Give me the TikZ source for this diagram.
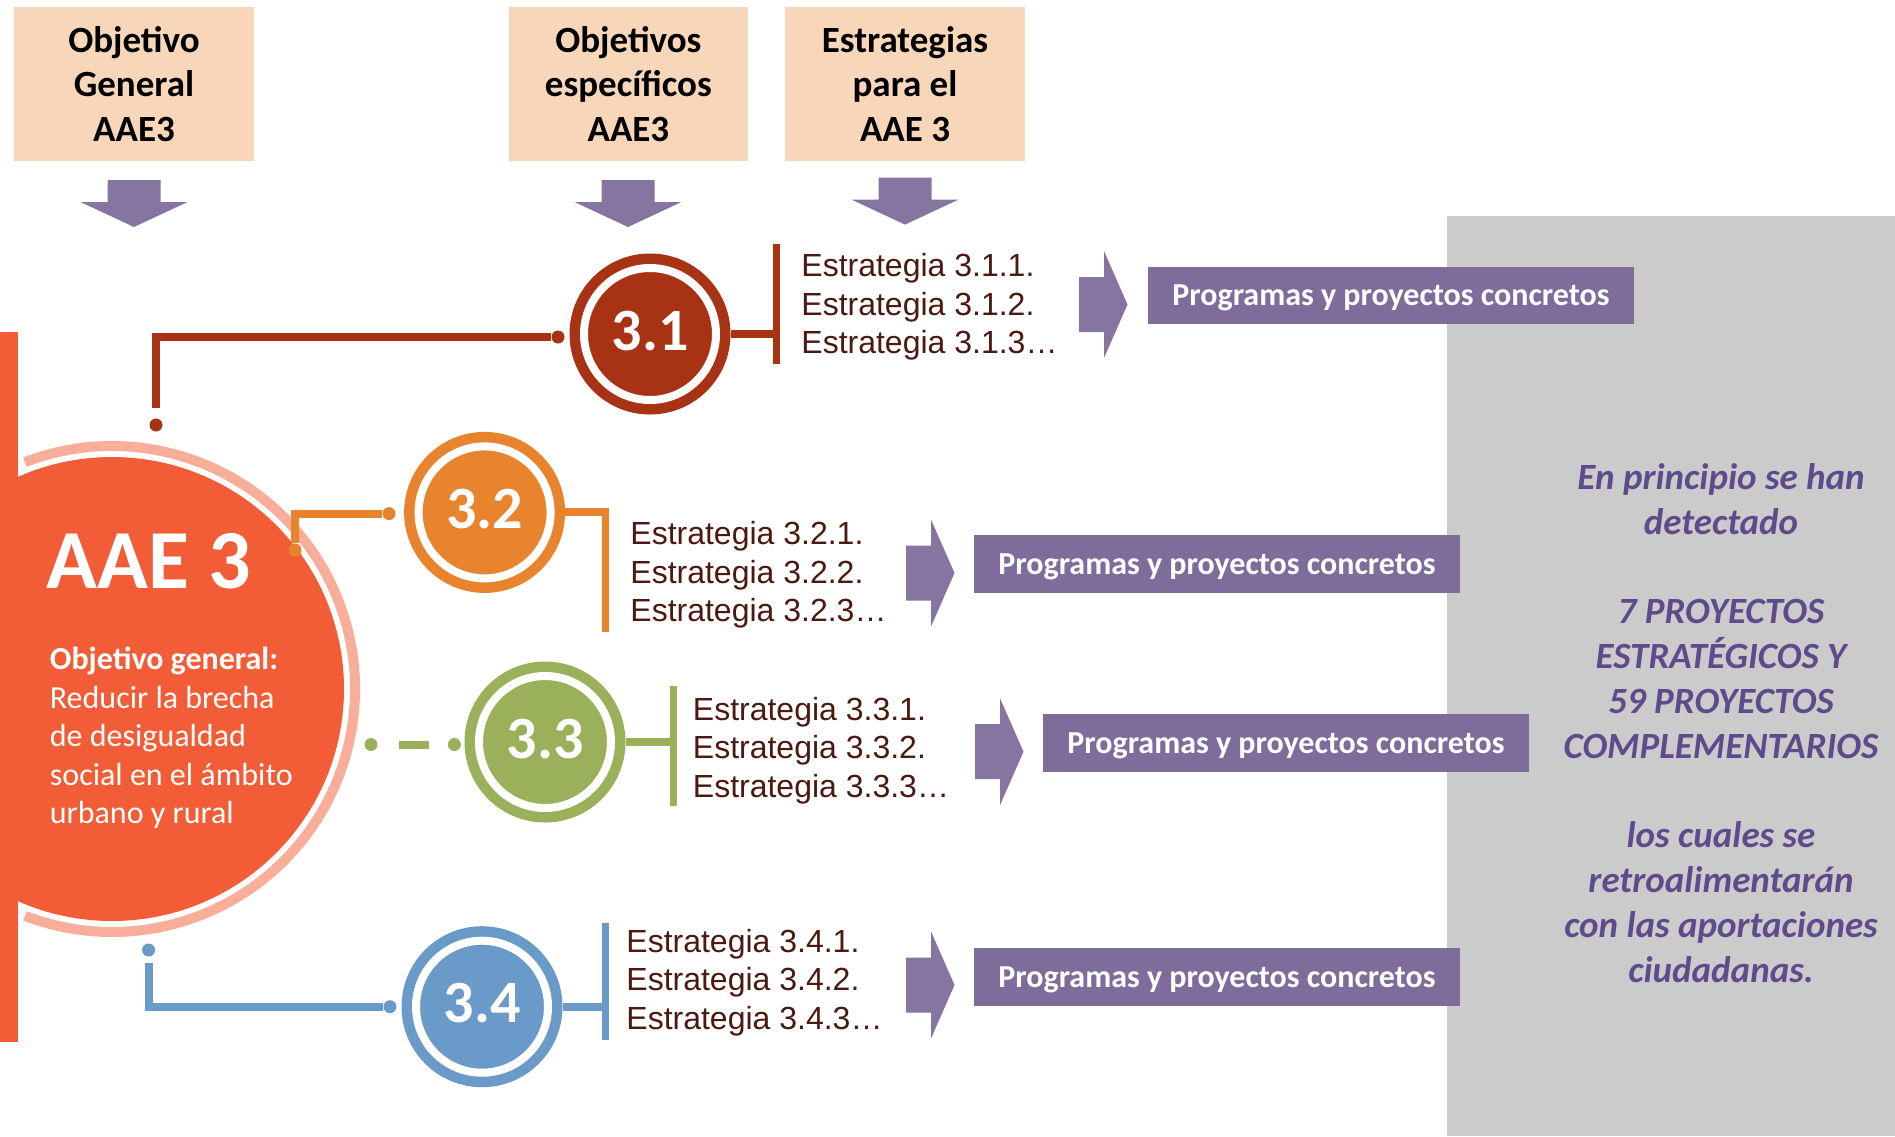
\documentclass[tikz,border=0pt]{standalone}
\usepackage{fontspec}
\setmainfont{Carlito}
\newfontfamily\arialfont{Liberation Sans}

\definecolor{peach}{HTML}{F7D6BA}
\definecolor{arrowpurple}{HTML}{8575A0}
\definecolor{boxpurple}{HTML}{7E6D9A}
\definecolor{panelgray}{HTML}{CBCBCB}
\definecolor{aaeorange}{HTML}{F25C36}
\definecolor{aaering}{HTML}{F8AE98}
\definecolor{cA}{HTML}{A83214}
\definecolor{cB}{HTML}{E8832E}
\definecolor{cC}{HTML}{9BB05A}
\definecolor{cD}{HTML}{6A9BC8}
\definecolor{estrtext}{HTML}{4B190F}
\definecolor{notepurple}{HTML}{5F4B8B}

\newcommand{\headarrow}[1]{%
  \fill[arrowpurple] (#1) ++(-26.5,0) -- ++(53,0) -- ++(0,22) -- ++(27,0)
    -- ++(-53.5,25) -- ++(-53.5,-25) -- ++(27,0) -- cycle;}
\newcommand{\goarrow}[1]{%
  \fill[arrowpurple] (#1) ++(0,-27.5) -- ++(25,0) -- ++(0,-26) -- ++(23.5,53.5)
    -- ++(-23.5,53.5) -- ++(0,-26) -- ++(-25,0) -- cycle;}

\begin{document}
\begin{tikzpicture}[x=0.5pt, y=-0.5pt,
                    header/.style={fill=peach, minimum width=119.7pt, minimum height=76.7pt,
                                   align=center, inner sep=0pt,
                                   font=\bfseries\fontsize{18.5}{22.4}\selectfont},
                    objective/.style={circle, fill=#1, draw=#1, line width=5.25pt,
                                      double=white, double distance=4pt, minimum size=66pt,
                                      inner sep=0pt, outer sep=7.25pt, text=white,
                                      font=\bfseries\fontsize{30}{30}\selectfont},
                    dot/.style={circle, fill=#1, inner sep=0pt, minimum size=6.5pt},
                    link/.style={#1, line width=4pt},
                    bar/.style={#1, line width=3.5pt},
                    strategies/.style={anchor=west, inner sep=0pt, align=left, text=estrtext,
                                       font=\arialfont\fontsize{16}{19.3}\selectfont},
                    programs/.style={fill=boxpurple, text=white, minimum width=243pt,
                                     minimum height=28.75pt, text depth=0pt,
                                     font=\bfseries\fontsize{16}{19}\selectfont}]
  \useasboundingbox (0,0) rectangle (1895,1136);
  \clip (0,0) rectangle (1895,1136);
  \fill[panelgray] (1447,216) rectangle (1895,1136);

  \node[header] (hgen) at (134,84) {Objetivo\\General\\AAE3};
  \node[header] (hesp) at (628.4,84) {Objetivos\\específicos\\AAE3};
  \node[header] (hest) at (905,84) {Estrategias\\para el\\AAE 3};
  \headarrow{134,180}
  \headarrow{628,180}
  \headarrow{905,177.6}

  \fill[aaeorange] (0,332) rectangle (18,1042);
  \node[circle, fill=aaeorange, minimum size=232pt, inner sep=0pt] (aae) at (112,689) {};
  \draw[aaering, line width=5pt] (aae.center) ++(-111:243)
    arc[start angle=-111, end angle=111, radius=243];
  \node[anchor=base west, inner sep=0pt, text=white,
        font=\bfseries\fontsize{42}{42}\selectfont] (aaetitle) at (46,588.5) {AAE 3};
  \node[anchor=west, inner sep=0pt, align=left, text=white,
        font=\fontsize{16}{19.2}\selectfont] (aaegoal) at (49.5,738)
    {\textbf{Objetivo general:}\\Reducir la brecha\\de desigualdad\\social en el ámbito\\urbano y rural};

  \node[objective=cA] (o31) at (650,334) {\raisebox{3.5pt}{3.1}};
  \node[objective=cB] (o32) at (484.6,512.4) {\raisebox{3.5pt}{3.2}};
  \node[objective=cC] (o33) at (545,742) {\raisebox{3.5pt}{3.3}};
  \node[objective=cD] (o34) at (482,1006.7) {\raisebox{3.5pt}{3.4}};

  \node[dot=cA] (d31a) at (156,425) {};
  \node[dot=cA] (d31b) at (558,337) {};
  \draw[link=cA, shorten <=5pt] (d31a) |- (d31b);
  \node[dot=cB] (d32a) at (295,550) {};
  \node[dot=cB] (d32b) at (389,513.6) {};
  \draw[link=cB] (d32a) |- (d32b);
  \node[dot=cC] (d33a) at (371,744.5) {};
  \node[dot=cC] (d33b) at (454.4,744.5) {};
  \draw[link=cC, shorten <=10.75pt, shorten >=9.5pt] (d33a) -- (d33b);
  \node[dot=cD] (d34a) at (148.6,950) {};
  \node[dot=cD] (d34b) at (390,1006.7) {};
  \draw[link=cD, shorten <=3pt] (d34a) |- (d34b);

  \coordinate (b31) at (776,244);
  \coordinate (b32) at (605,508);
  \coordinate (b33) at (673,686);
  \coordinate (b34) at (605.5,923);
  \draw[bar=cA] (b31) -- ++(0,120);
  \draw[bar=cB] (b32) -- ++(0,124);
  \draw[bar=cC] (b33) -- ++(0,120);
  \draw[bar=cD] (b34) -- ++(0,117);
  \draw[link=cA] (o31) -- (o31 -| b31);
  \draw[link=cB] (o32) -- (o32 -| b32);
  \draw[link=cC] (o33) -- (o33 -| b33);
  \draw[link=cD] (o34) -- (o34 -| b34);

  \node[strategies] (s31) at (801,307) {Estrategia 3.1.1.\\Estrategia 3.1.2.\\Estrategia 3.1.3…};
  \node[strategies] (s32) at (630,575) {Estrategia 3.2.1.\\Estrategia 3.2.2.\\Estrategia 3.2.3…};
  \node[strategies] (s33) at (692.5,750.5) {Estrategia 3.3.1.\\Estrategia 3.3.2.\\Estrategia 3.3.3…};
  \node[strategies] (s34) at (626,982.5) {Estrategia 3.4.1.\\Estrategia 3.4.2.\\Estrategia 3.4.3…};

  \goarrow{1079,304.5}
  \goarrow{906,573}
  \goarrow{975,751.7}
  \goarrow{906,985}

  \node[programs] (p31) at (1391,295.5) {Programas y proyectos concretos};
  \node[programs] (p32) at (1217,564) {Programas y proyectos concretos};
  \node[programs] (p33) at (1286,743) {Programas y proyectos concretos};
  \node[programs] (p34) at (1217,977) {Programas y proyectos concretos};

  \node[align=center, text=notepurple, inner sep=0pt,
        font=\bfseries\itshape\fontsize{18.5}{22.4}\selectfont] (note) at (1721,723)
    {En principio se han\\detectado\\[22.4pt]7 PROYECTOS\\ESTRATÉGICOS Y\\59 PROYECTOS\\COMPLEMENTARIOS\\[22.4pt]los cuales se\\retroalimentarán\\con las aportaciones\\ciudadanas.};
\end{tikzpicture}
\end{document}
